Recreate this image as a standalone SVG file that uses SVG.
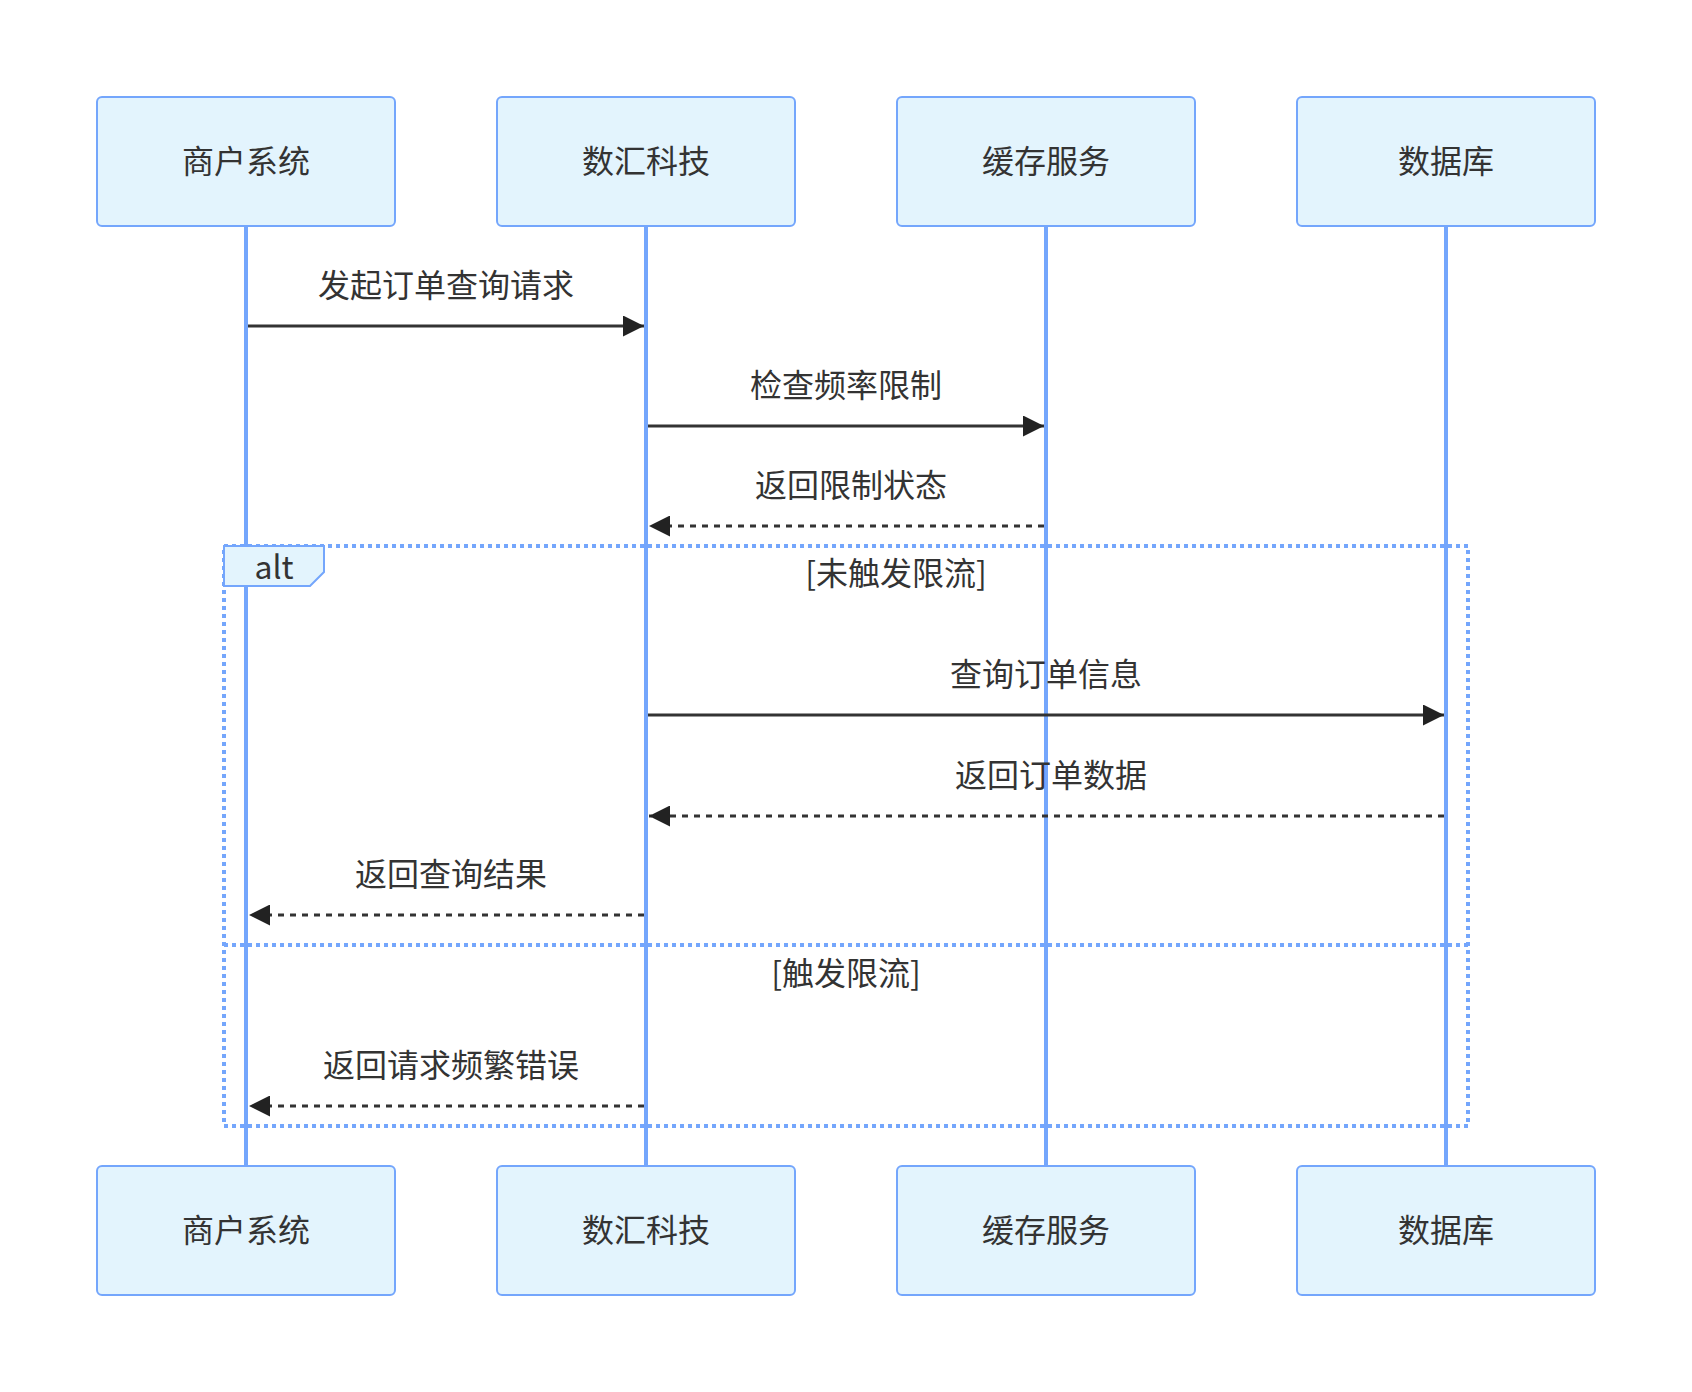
<svg xmlns="http://www.w3.org/2000/svg" width="1692" height="1392" viewBox="0 0 1692 1392">
<style>
.actor rect{fill:#e3f4fd;stroke:#74a6fc;stroke-width:2}
.actor text{font-family:"Noto Sans CJK SC","DejaVu Sans",sans-serif;font-size:32px;fill:#333;text-anchor:middle}
.life{stroke:#74a6fc;stroke-width:4}
.msg{stroke:#333;stroke-width:3;fill:none}
.dash{stroke-dasharray:6,6}
.mtext{font-family:"Noto Sans CJK SC","DejaVu Sans",sans-serif;font-size:32px;fill:#333;text-anchor:middle}
.loop{stroke:#74a6fc;stroke-width:4;stroke-dasharray:4,4;fill:none}
.lbl{fill:#e3f4fd;stroke:#74a6fc;stroke-width:2}
</style>
<defs>
<marker id="arrow" markerUnits="userSpaceOnUse" viewBox="0 0 21 21" refX="21" refY="10.5" markerWidth="21" markerHeight="21" orient="auto">
<path d="M0,0 L21,10.5 L0,21 z" fill="#222"/>
</marker>
</defs>
<rect width="1692" height="1392" fill="#fff"/>
<g id="lifelines">
<line class="life" x1="246" y1="226" x2="246" y2="1166"/>
<line class="life" x1="646" y1="226" x2="646" y2="1166"/>
<line class="life" x1="1046" y1="226" x2="1046" y2="1166"/>
<line class="life" x1="1446" y1="226" x2="1446" y2="1166"/>
</g>
<g id="actor-merchant-top" class="actor"><rect x="97" y="97" width="298" height="129" rx="5"/><text x="246" y="173">商户系统</text></g>
<g id="actor-shuhui-top" class="actor"><rect x="497" y="97" width="298" height="129" rx="5"/><text x="646" y="173">数汇科技</text></g>
<g id="actor-cache-top" class="actor"><rect x="897" y="97" width="298" height="129" rx="5"/><text x="1046" y="173">缓存服务</text></g>
<g id="actor-db-top" class="actor"><rect x="1297" y="97" width="298" height="129" rx="5"/><text x="1446" y="173">数据库</text></g>
<g id="alt-frame">
<rect class="loop" x="224" y="546" width="1244" height="580"/>
<line class="loop" x1="224" y1="945" x2="1468" y2="945"/>
<polygon class="lbl" points="224,546 324,546 324,572 310,586 224,586"/>
<text class="mtext" x="274" y="579">alt</text>
<text class="mtext" x="896" y="585">[未触发限流]</text>
<text class="mtext" x="846" y="985">[触发限流]</text>
</g>
<g id="connectors">
<line class="msg" x1="248" y1="326" x2="644" y2="326" marker-end="url(#arrow)"/>
<text class="mtext" x="446" y="297">发起订单查询请求</text>
<line class="msg" x1="648" y1="426" x2="1044" y2="426" marker-end="url(#arrow)"/>
<text class="mtext" x="846" y="397">检查频率限制</text>
<line class="msg dash" x1="1044" y1="526" x2="649" y2="526" marker-end="url(#arrow)"/>
<text class="mtext" x="851" y="497">返回限制状态</text>
<line class="msg" x1="648" y1="715" x2="1444" y2="715" marker-end="url(#arrow)"/>
<text class="mtext" x="1046" y="686">查询订单信息</text>
<line class="msg dash" x1="1444" y1="816" x2="649" y2="816" marker-end="url(#arrow)"/>
<text class="mtext" x="1051" y="787">返回订单数据</text>
<line class="msg dash" x1="644" y1="915" x2="249" y2="915" marker-end="url(#arrow)"/>
<text class="mtext" x="451" y="886">返回查询结果</text>
<line class="msg dash" x1="644" y1="1106" x2="249" y2="1106" marker-end="url(#arrow)"/>
<text class="mtext" x="451" y="1077">返回请求频繁错误</text>
</g>
<g id="actor-merchant-bottom" class="actor"><rect x="97" y="1166" width="298" height="129" rx="5"/><text x="246" y="1242">商户系统</text></g>
<g id="actor-shuhui-bottom" class="actor"><rect x="497" y="1166" width="298" height="129" rx="5"/><text x="646" y="1242">数汇科技</text></g>
<g id="actor-cache-bottom" class="actor"><rect x="897" y="1166" width="298" height="129" rx="5"/><text x="1046" y="1242">缓存服务</text></g>
<g id="actor-db-bottom" class="actor"><rect x="1297" y="1166" width="298" height="129" rx="5"/><text x="1446" y="1242">数据库</text></g>
</svg>
